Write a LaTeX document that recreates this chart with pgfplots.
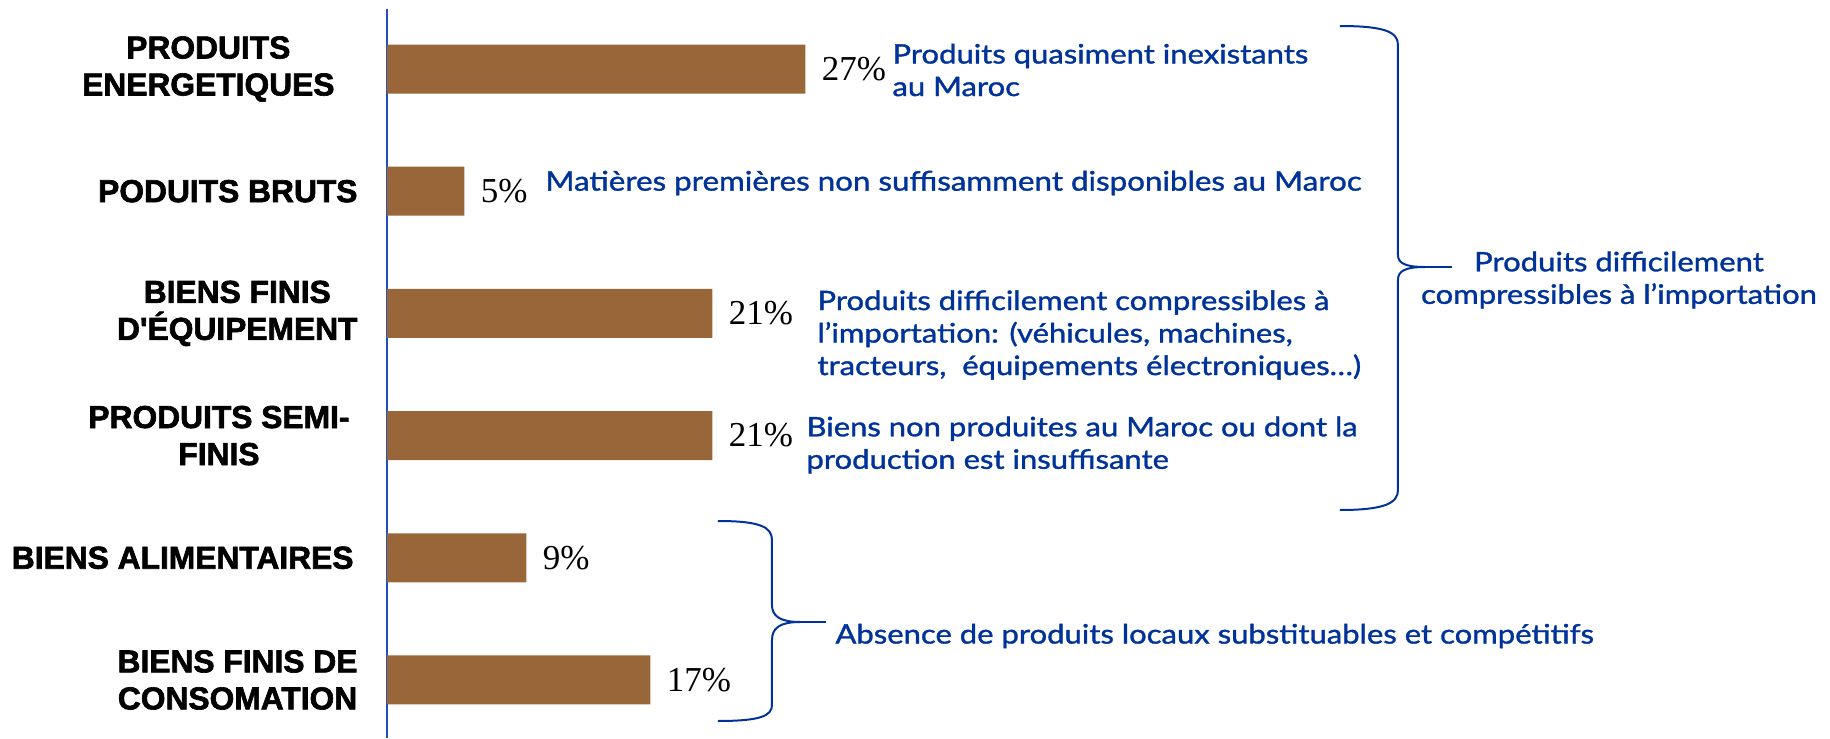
\documentclass[border=0pt]{standalone}
\usepackage{fontspec}
\usepackage{pgfplots}
\pgfplotsset{compat=1.18}
\setmainfont{Liberation Serif}
\newfontfamily\catfont{Liberation Sans}[BoldFeatures={FakeBold=2}]
\newfontfamily\bluefont{Lato}[FakeBold=1.3, FakeStretch=1.16]
\definecolor{wood}{RGB}{152,102,56}
\definecolor{txtblue}{RGB}{0,51,153}
\definecolor{axblue}{RGB}{32,80,190}

\pgfplotstableread{
idx val
0 27
1 5
2 21
3 21
4 9
5 17
}\imports

\begin{document}
\begin{tikzpicture}
\path[use as bounding box] (0pt,0pt) rectangle (732pt,-295.2pt);
\begin{axis}[
  at={(154.8pt,-3.6pt)}, anchor=north west,
  scale only axis, width=577.2pt, height=291.6pt,
  xbar, bar width=19.6pt,
  xmin=0, xmax=93.1,
  ymin=-0.491, ymax=5.475, y dir=reverse,
  enlargelimits=false,
  axis x line=none,
  axis y line*=left,
  axis line style={axblue, line width=0.8pt},
  xtick=\empty,
  ytick={0,1,2,3,4,5},
  yticklabels={{PRODUITS\hspace*{9.2pt}\\ENERGETIQUES\hspace*{9.2pt}},
               {PODUITS BRUTS},
               {BIENS FINIS\\D'ÉQUIPEMENT},
               {PRODUITS SEMI-\hspace*{3.2pt}\\FINIS\hspace*{3.2pt}},
               {BIENS ALIMENTAIRES\hspace*{1.6pt}},
               {BIENS FINIS DE\\CONSOMATION}},
  major tick length=0pt,
  yticklabel style={font=\catfont\bfseries\fontsize{12.7}{14.8}\selectfont,
                    align=center, anchor=east, inner sep=0pt, xshift=-11.6pt},
  point meta=x,
  nodes near coords={\pgfmathprintnumber[assume math mode=true]{\pgfplotspointmeta}\%},
  nodes near coords style={font=\fontsize{14}{16}\selectfont, black,
                           anchor=west, inner sep=0pt, xshift=6.4pt},
  clip=false,
]
\addplot[fill=wood, draw=none] table[x=val, y=idx] {\imports};
\end{axis}

\begin{scope}[x=0.4pt, y=-0.4pt]
  % brace 1
  \draw[txtblue, line width=0.8pt]
    (1340,26) .. controls (1385,26) and (1398,32) .. (1398,45)
    -- (1398,255) .. controls (1398,263) and (1405,267) .. (1425,267)
    .. controls (1405,267) and (1398,271) .. (1398,280)
    -- (1398,490) .. controls (1398,503) and (1385,510) .. (1340,510);
  \draw[txtblue, line width=0.8pt] (1425,267) -- (1452,267);
  % brace 2
  \draw[txtblue, line width=0.8pt]
    (718,521) .. controls (760,521) and (772,527) .. (772,540)
    -- (772,605) .. controls (772,616) and (780,622) .. (800,622)
    .. controls (780,622) and (772,628) .. (772,640)
    -- (772,705) .. controls (772,716) and (760,721) .. (718,721);
  \draw[txtblue, line width=0.8pt] (800,622) -- (826,622);

  \tikzset{bt/.style={text=txtblue, inner sep=0pt,
      font=\bluefont\fontsize{10.7}{13}\selectfont}}
  \node[bt, anchor=west, align=left] at (892,70)
    {Produits quasiment inexistants\\au Maroc};
  \node[bt, anchor=west, align=left, font=\bluefont\fontsize{10.8}{13}\selectfont] at (545,183)
    {Matières premières non suffisamment disponibles au Maroc};
  \node[bt, anchor=west, align=left] at (817,335)
    {Produits difficilement compressibles à\\l’importation: (véhicules, machines,\\tracteurs,\ \ équipements électroniques…)};
  \node[bt, anchor=west, align=left] at (806,445)
    {Biens non produites au Maroc ou dont la\\production est insuffisante};
  \node[bt, anchor=west, align=left] at (835,636)
    {Absence de produits locaux substituables et compétitifs};
  \node[bt, anchor=center, align=center] at (1619,280)
    {Produits difficilement\\compressibles à l’importation};
\end{scope}
\end{tikzpicture}
\end{document}
